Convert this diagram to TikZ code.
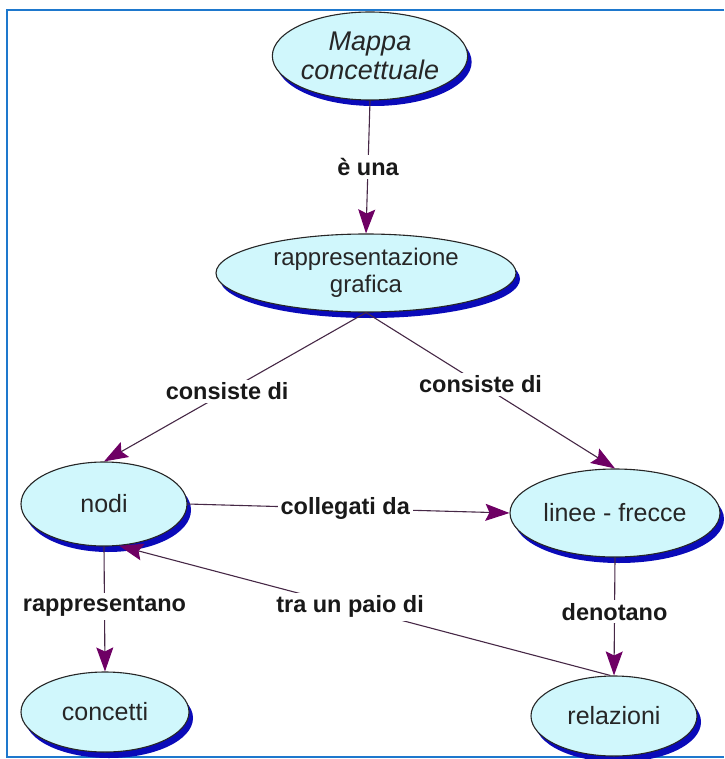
\documentclass[tikz,border=0pt]{standalone}
\usepackage{fontspec}
\setmainfont{Liberation Sans}
\usetikzlibrary{shapes.geometric,shadows,arrows.meta}
\definecolor{bubble}{RGB}{208,247,252}
\definecolor{shade}{RGB}{10,10,185}
\definecolor{tip}{RGB}{110,0,100}
\definecolor{wire}{RGB}{70,40,70}
\definecolor{frame}{RGB}{30,120,205}
\tikzset{
  concept/.style={ellipse, draw=black!85, line width=1.1pt, fill=bubble, inner sep=0pt,
    align=center, text=black!85, font=\fontsize{25}{28}\selectfont,
    drop shadow={shadow xshift=4pt, shadow yshift=-6pt, fill=shade, opacity=1}},
  link/.style={draw=wire, line width=1.1pt, -{Stealth[length=24pt,width=17pt,inset=4pt,fill=tip,color=tip]}},
  verb/.style={fill=white, inner sep=3pt, text=black!90, font=\fontsize{23.5}{26}\selectfont\bfseries},
}
\begin{document}
\begin{tikzpicture}[x=1pt,y=-1pt]
\useasboundingbox (0,0) rectangle (724,759);
\draw[frame, line width=2.5pt] (724,10) -- (7,10) -- (7,757) -- (724,757);
\node[concept, minimum width=160pt, minimum height=88pt, font=\fontsize{27}{29}\selectfont\itshape] (mappa) at (370,56) {Mappa\\concettuale};
\node[concept, minimum width=300pt, minimum height=78pt, inner ysep=-6pt, font=\fontsize{24}{27}\selectfont] (rap) at (366,273) {rappresentazione\\grafica};
\node[concept, minimum width=166pt, minimum height=84pt] (nodi) at (104,504) {nodi};
\node[concept, minimum width=210pt, minimum height=88pt] (linee) at (615,513) {linee - frecce};
\node[concept, minimum width=168pt, minimum height=80pt] (concetti) at (105,712) {concetti};
\node[concept, minimum width=166pt, minimum height=80pt] (rel) at (614,716) {relazioni};
\draw[link] (mappa.south) -- node[verb] (l1) {è una} (rap.north);
\draw[link] (rap.south) -- node[verb, pos=0.53] (l2) {consiste di} (nodi.north);
\draw[link] (rap.south) -- node[verb, pos=0.46] (l3) {consiste di} (linee.north);
\draw[link] (nodi.east) -- node[verb, pos=0.49] (l4) {collegati da} (linee.west);
\draw[link] (nodi.south) -- node[verb, pos=0.48] (l5) {rappresentano} (concetti.north);
\draw[link] (linee.south) -- node[verb, pos=0.46] (l6) {denotano} (rel.north);
\draw[link] (rel.95) -- node[verb, pos=0.53] (l7) {tra un paio di} (nodi.-70);
\end{tikzpicture}
\end{document}
